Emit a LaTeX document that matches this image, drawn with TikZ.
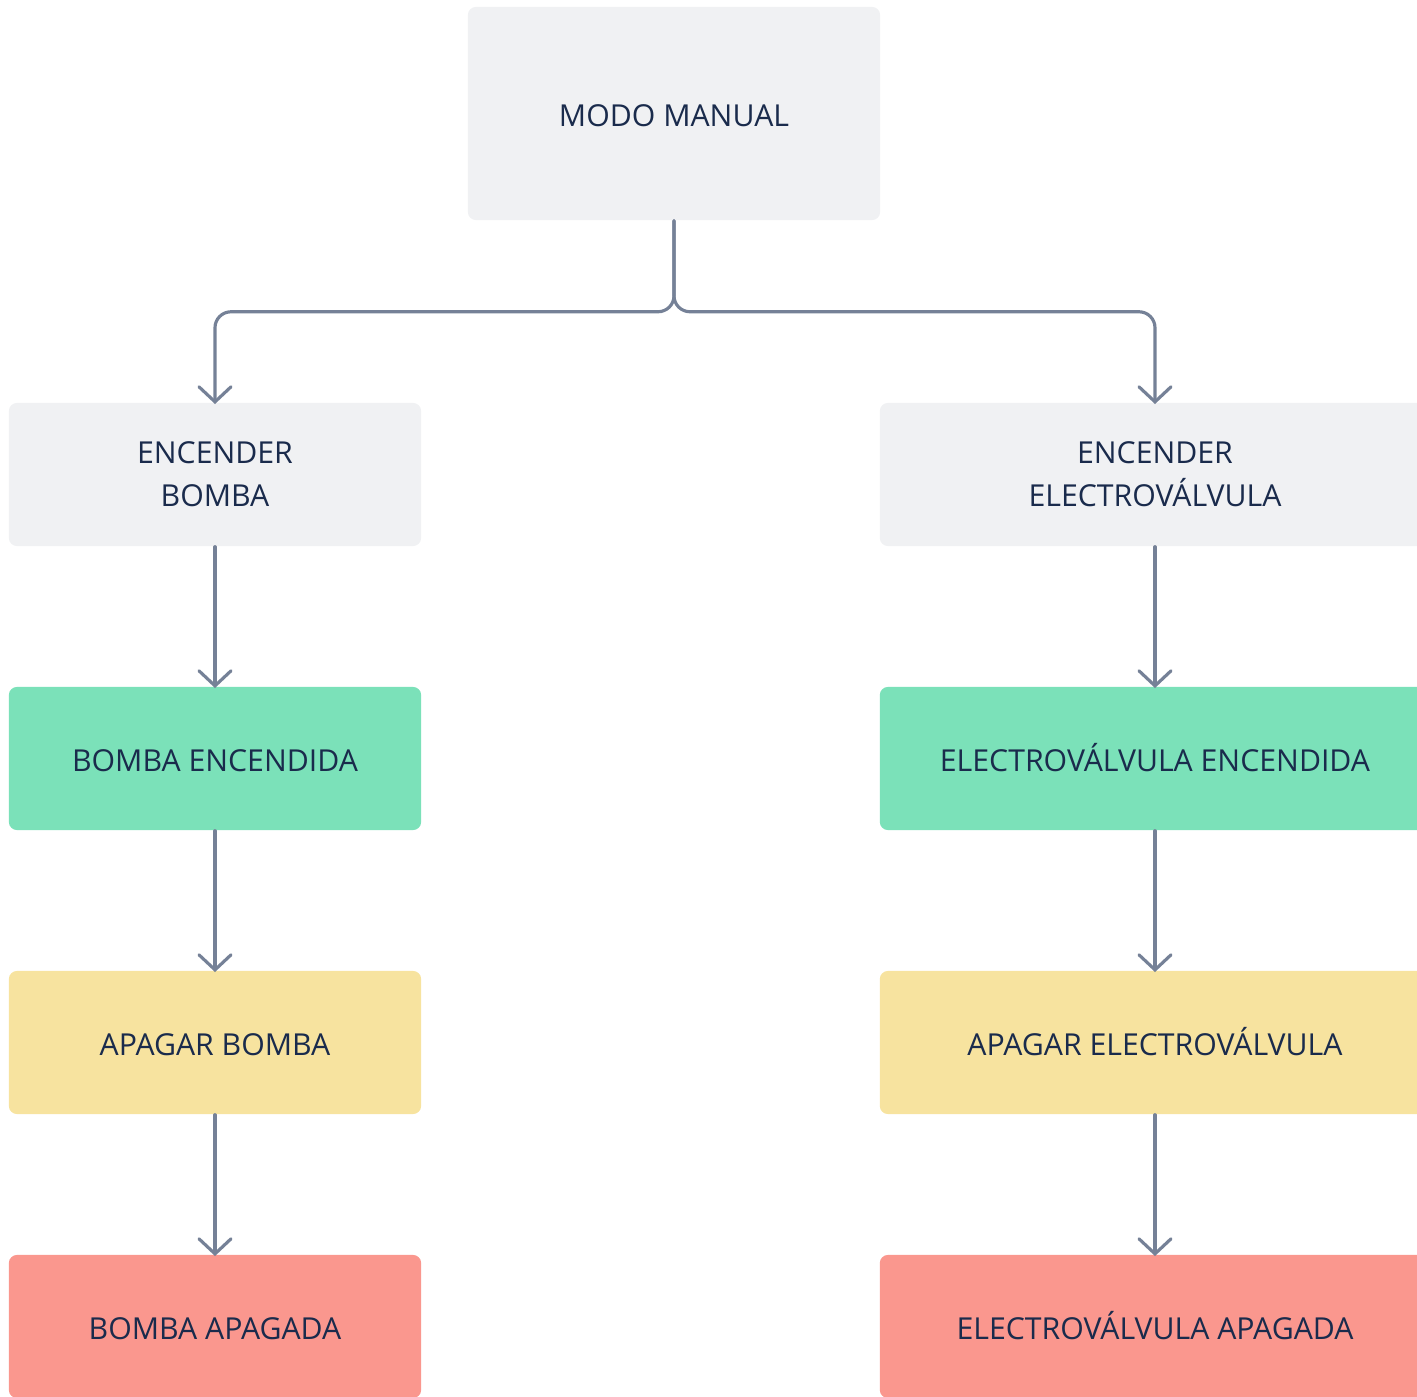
\documentclass[tikz,border=0pt]{standalone}
\usepackage{fontspec}
\setmainfont{Open Sans}
\usetikzlibrary{arrows.meta}

\definecolor{boxgray}{HTML}{F0F1F3}
\definecolor{boxgreen}{HTML}{7BE1B9}
\definecolor{boxyellow}{HTML}{F7E39F}
\definecolor{boxred}{HTML}{FA978E}
\definecolor{inkblue}{HTML}{1A2B4C}
\definecolor{linegray}{HTML}{758197}

\tikzset{
    block/.style={rectangle,rounded corners=0.08cm,minimum height=1.43cm,
        text=inkblue,font=\fontsize{8.6}{12.2}\selectfont,align=center},
    narrow/.style={block,minimum width=4.12cm},
    wide/.style={block,minimum width=5.5cm},
    oneline/.style={text height=0.72em,text depth=0em},
    flow/.style={draw=linegray,line width=0.9pt,line cap=round,shorten >=-0.5pt,
        -{Straight Barb[length=0.15cm,width=0.32cm,line cap=round]}}
}

\begin{document}
\begin{tikzpicture}[x=0.01cm,y=-0.01cm]
    \useasboundingbox (0,0) rectangle (1417,1397);
    \begin{scope}
    \clip (0,0) rectangle (1417,1397);
    \node (manual) [block,oneline,minimum width=4.12cm,minimum height=2.13cm,fill=boxgray] at (674,113.5) {MODO MANUAL};
    \node (encbomba) [narrow,fill=boxgray] at (215,474.5) {ENCENDER\\BOMBA};
    \node (encvalv) [wide,fill=boxgray] at (1155,474.5) {ENCENDER\\ELECTROVÁLVULA};
    \node (bombaon) [narrow,oneline,fill=boxgreen] at (215,758.5) {BOMBA ENCENDIDA};
    \node (valvon) [wide,oneline,fill=boxgreen] at (1155,758.5) {ELECTROVÁLVULA ENCENDIDA};
    \node (apagbomba) [narrow,oneline,fill=boxyellow] at (215,1042.5) {APAGAR BOMBA};
    \node (apagvalv) [wide,oneline,fill=boxyellow] at (1155,1042.5) {APAGAR ELECTROVÁLVULA};
    \node (bombaoff) [narrow,oneline,fill=boxred] at (215,1326.5) {BOMBA APAGADA};
    \node (valvoff) [wide,oneline,fill=boxred] at (1155,1326.5) {ELECTROVÁLVULA APAGADA};
    \end{scope}
    % split from the top
    \draw [flow,rounded corners=0.16cm] (manual.south) -- ++(0,91) -| (encbomba.north);
    \draw [flow,rounded corners=0.16cm] (manual.south) -- ++(0,91) -| (encvalv.north);
    % left column
    \draw [flow] (encbomba) -- (bombaon);
    \draw [flow] (bombaon) -- (apagbomba);
    \draw [flow] (apagbomba) -- (bombaoff);
    % right column
    \draw [flow] (encvalv) -- (valvon);
    \draw [flow] (valvon) -- (apagvalv);
    \draw [flow] (apagvalv) -- (valvoff);
\end{tikzpicture}
\end{document}
